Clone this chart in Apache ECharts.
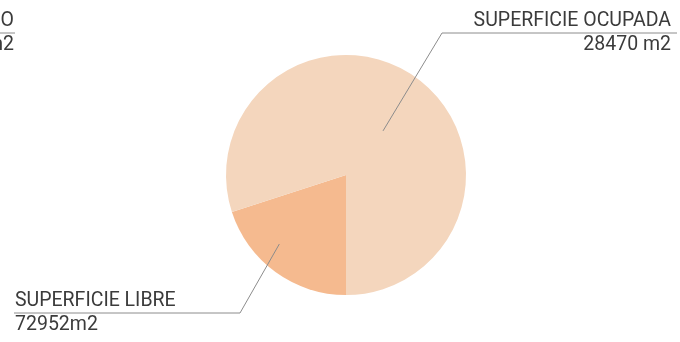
<!DOCTYPE html>
<html>
<head>
<meta charset="utf-8">
<script src="https://cdn.jsdelivr.net/npm/echarts@6/dist/echarts.min.js"></script>
<style>
html, body { margin: 0; padding: 0; background: #fff; }
#chart { width: 680px; height: 342px; }
</style>
</head>
<body>
<div id="chart"></div>
<script>
//数据
var slice_names = ['SUPERFICIE LIBRE', 'SUPERFICIE OCUPADA'];
var slice_labels = ['72952m2', '28470 m2'];
var slice_share = [20, 80];
var total_name = 'SUPERFICIE TOTAL DEL TERRENO';
var total_label = '101422 m2';

var slice_colors = ['#F5BA8F', '#F4D6BD'];
var text_color = '#3b3b3b';
var line_color = '#8c8c8c';
var font_size = 19.5;
var pie_center = [346, 175];
var pie_radius = 120;

//标签位置: 第一点在扇区内(角度, 半径比例), 然后折点和水平线末端
var label_place = [
	{ x: 15, y: 313, align: 'left', inner: [224, 0.8], bend: [240, 313], end: [14, 313] },
	{ x: 671, y: 33, align: 'right', inner: [40, 0.48], bend: [442, 33], end: [677, 33] }
];

function polar_point(angle, ratio) {
	var rad = angle * Math.PI / 180;
	return [pie_center[0] + Math.sin(rad) * pie_radius * ratio,
		pie_center[1] - Math.cos(rad) * pie_radius * ratio];
}

//两个系列: 底层画扇区, 上层透明只画标签和引导线(引导线要压在扇区上面)
var pie_data = [];
var label_data = [];
for (var i = 0; i < slice_names.length; i++) {
	pie_data.push({
		name: slice_names[i],
		value: slice_share[i],
		itemStyle: { color: slice_colors[i] }
	});
	label_data.push({
		name: slice_names[i],
		value: slice_share[i],
		label_text: slice_labels[i],
		itemStyle: { color: 'rgba(0,0,0,0)' }
	});
}

var chart = echarts.init(document.getElementById('chart'));
var option = {
	animation: false,
	graphic: [{
		type: 'group',
		children: [{
			type: 'text',
			x: 14,
			y: 33,
			style: {
				text: '{a|' + total_name + '}\n{a|' + total_label + '}',
				align: 'right',
				verticalAlign: 'middle',
				fill: text_color,
				rich: { a: { fontFamily: 'Roboto', fontSize: font_size, lineHeight: 24, color: text_color, align: 'right' } }
			}
		}, {
			type: 'line',
			shape: { x1: 0, y1: 33, x2: 15, y2: 33 },
			style: { stroke: line_color, lineWidth: 1 }
		}]
	}],
	series: [{
		type: 'pie',
		z: 2,
		center: pie_center,
		radius: pie_radius,
		startAngle: 270,
		clockwise: true,
		silent: true,
		data: pie_data,
		label: { show: false },
		labelLine: { show: false }
	}, {
		type: 'pie',
		z: 5,
		center: pie_center,
		radius: pie_radius,
		startAngle: 270,
		clockwise: true,
		silent: true,
		data: label_data,
		label: {
			show: true,
			position: 'outside',
			formatter: function (p) {
				return '{a|' + p.name + '}\n{a|' + p.data.label_text + '}';
			},
			rich: {
				a: { fontFamily: 'Roboto', fontSize: font_size, lineHeight: 24, color: text_color }
			}
		},
		labelLine: {
			show: true,
			lineStyle: { color: line_color, width: 1 }
		},
		labelLayout: function (params) {
			var place = label_place[params.dataIndex];
			return {
				x: place.x,
				y: place.y,
				align: place.align,
				verticalAlign: 'middle',
				labelLinePoints: [polar_point(place.inner[0], place.inner[1]), place.bend, place.end]
			};
		}
	}]
};
chart.setOption(option);
</script>
</body>
</html>
